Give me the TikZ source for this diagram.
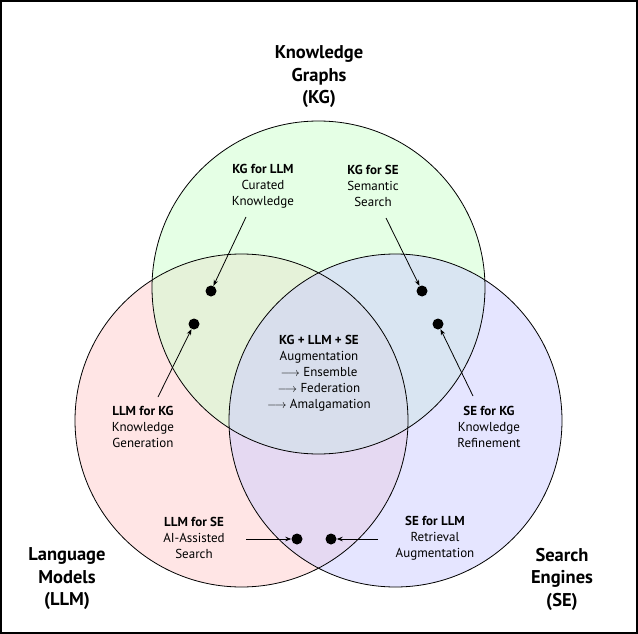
\documentclass[tikz,border=0pt]{standalone}
\usepackage{fontspec}
\setmainfont{PT Sans}
\usetikzlibrary{arrows.meta}
\begin{document}
\begin{tikzpicture}[x=1pt,y=-1pt,
  setfill/.style={fill=#1!20, fill opacity=0.5},
  ring/.style={draw=black, line width=0.8pt},
  bigtitle/.style={align=center, inner sep=0pt, font=\fontsize{18.5}{22.5}\selectfont\bfseries},
  lbl/.style={align=center, inner sep=0pt, font=\fontsize{13}{16}\selectfont},
  dot/.style={circle, fill=black, inner sep=0pt, minimum size=11pt},
  arr/.style={line width=0.8pt, -{Stealth[length=6pt,width=4.5pt]}}]
\useasboundingbox (0,0) rectangle (638,634);
\draw[line width=2pt] (1,1) rectangle (637,633);
% circles
\coordinate (ckg) at (318.5,287.5);
\coordinate (cllm) at (241.5,420.5);
\coordinate (cse) at (395.5,420.5);
\fill[setfill=red] (cllm) circle[radius=166.5pt];
\fill[setfill=green] (ckg) circle[radius=166.5pt];
\fill[setfill=blue] (cse) circle[radius=166.5pt];
\draw[ring] (cllm) circle[radius=166.5pt];
\draw[ring] (ckg) circle[radius=166.5pt];
\draw[ring] (cse) circle[radius=166.5pt];
% titles
\node[bigtitle] (tkg) at (319,77) {Knowledge\\Graphs\\(KG)};
\node[bigtitle] (tllm) at (67,579) {Language\\Models\\(LLM)};
\node[bigtitle] (tse) at (562,579) {Search\\Engines\\(SE)};
% labels
\node[lbl] (kgllm) at (263,186) {\textbf{KG for LLM}\\Curated\\Knowledge};
\node[lbl] (kgse) at (373,186) {\textbf{KG for SE}\\Semantic\\Search};
\node[lbl] (llmkg) at (143,427) {\textbf{LLM for KG}\\Knowledge\\Generation};
\node[lbl] (sekg) at (489,427) {\textbf{SE for KG}\\Knowledge\\Refinement};
\node[lbl] (llmse) at (194,538) {\textbf{LLM for SE}\\AI-Assisted\\Search};
\node[lbl] (sellm) at (435,538) {\textbf{SE for LLM}\\Retrieval\\Augmentation};
\node[lbl] (center) at (319,373.5) {\textbf{KG + LLM + SE}\\Augmentation\\$\longrightarrow$ Ensemble\\$\longrightarrow$ Federation\\$\longrightarrow$ Amalgamation};
% dots
\node[dot] (d1) at (211,291) {};
\node[dot] (d2) at (422,291) {};
\node[dot] (d3) at (194,324) {};
\node[dot] (d4) at (438,324) {};
\node[dot] (d5) at (297,539) {};
\node[dot] (d6) at (331,539) {};
% arrow starts
\coordinate (s1) at (246,217);
\coordinate (s2) at (386,218);
\coordinate (s3) at (158,397);
\coordinate (s4) at (473,396);
\coordinate (s5) at (246,539);
\coordinate (s6) at (378,539);
\draw[arr] (s1) -- (d1);
\draw[arr] (s2) -- (d2);
\draw[arr] (s3) -- (d3);
\draw[arr] (s4) -- (d4);
\draw[arr] (s5) -- (d5);
\draw[arr] (s6) -- (d6);
\end{tikzpicture}
\end{document}
